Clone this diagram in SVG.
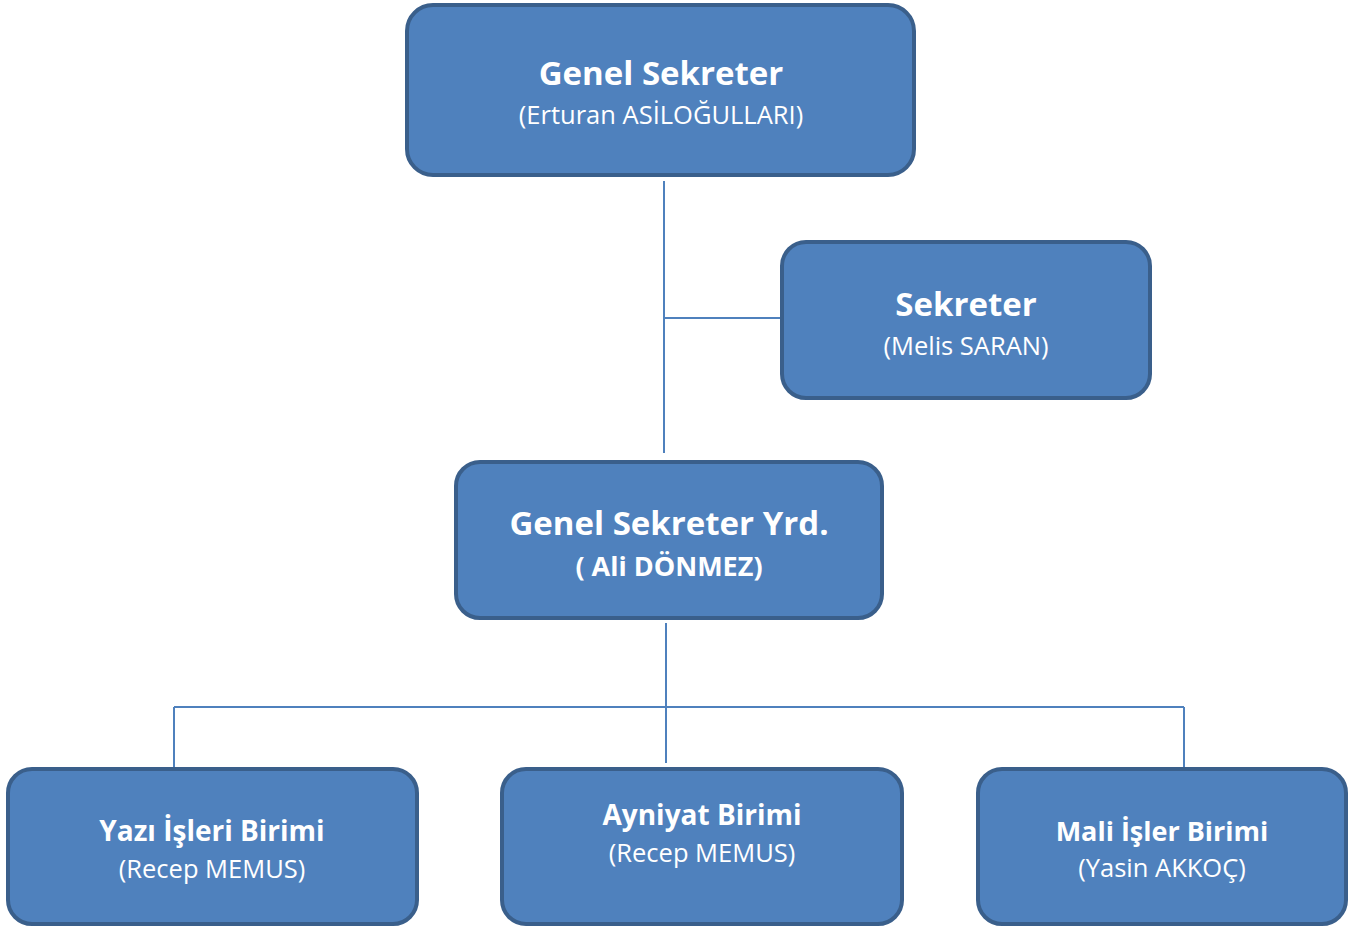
<svg xmlns="http://www.w3.org/2000/svg" width="1371" height="931" viewBox="0 0 1371 931">
<style>
.box{fill:#4f81bd;stroke:#3a5f8b;stroke-width:4}
.t{font-family:"Open Sans","Liberation Sans",sans-serif;fill:#fff;text-anchor:middle}
.b{font-weight:bold}
.h{font-size:33px}
.s{font-size:25.5px}
.a{font-size:27px}
.m{font-size:28px}
.conn{stroke:#4f81bd;stroke-width:2;fill:none}
</style>
<rect width="1371" height="931" fill="#fff"/>
<g id="connectors">
<path class="conn" d="M664 181V453M664 318H781"/>
<path class="conn" d="M666 623V763M174 707H1184M174 707V768M1184 707V768"/>
</g>
<g id="genel-sekreter">
<rect class="box" x="407" y="5" width="507" height="170" rx="26"/>
<text class="t b h" x="661" y="85">Genel Sekreter</text>
<text class="t s" x="661" y="124">(Erturan ASİLOĞULLARI)</text>
</g>
<g id="sekreter">
<rect class="box" x="782" y="242" width="368" height="156" rx="24"/>
<text class="t b h" x="966" y="316">Sekreter</text>
<text class="t s" x="966" y="355">(Melis SARAN)</text>
</g>
<g id="genel-sekreter-yrd">
<rect class="box" x="456" y="462" width="426" height="156" rx="24"/>
<text class="t b h" x="669" y="535">Genel Sekreter Yrd.</text>
<text class="t b a" x="669" y="576">( Ali DÖNMEZ)</text>
</g>
<g id="yazi-isleri">
<rect class="box" x="8" y="769" width="409" height="155" rx="24"/>
<text class="t b m" x="212" y="841">Yazı İşleri Birimi</text>
<text class="t s" x="212" y="878">(Recep MEMUS)</text>
</g>
<g id="ayniyat">
<rect class="box" x="502" y="769" width="400" height="155" rx="24"/>
<text class="t b m" x="702" y="825">Ayniyat Birimi</text>
<text class="t s" x="702" y="862">(Recep MEMUS)</text>
</g>
<g id="mali-isler">
<rect class="box" x="978" y="769" width="368" height="155" rx="24"/>
<text class="t b m" x="1162" y="841" style="font-size:27px">Mali İşler Birimi</text>
<text class="t s" x="1162" y="877">(Yasin AKKOÇ)</text>
</g>
</svg>
